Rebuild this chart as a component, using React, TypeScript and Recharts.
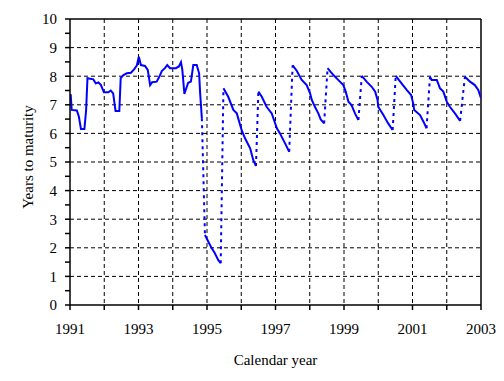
import { LineChart, Line, XAxis, YAxis, CartesianGrid, ReferenceLine } from 'recharts';

// each run is one bond's years to maturity, [year, value]
const run1: number[][] = [
  [1991.0, 7.24], [1991.02, 7.37], [1991.05, 6.82], [1991.2, 6.8], [1991.26, 6.58],
  [1991.32, 6.15], [1991.42, 6.15], [1991.47, 6.8], [1991.51, 7.93], [1991.68, 7.89],
  [1991.75, 7.75], [1991.83, 7.78], [1991.9, 7.7], [1991.99, 7.44], [1992.12, 7.44],
  [1992.19, 7.5], [1992.26, 7.4], [1992.33, 6.78], [1992.44, 6.78], [1992.48, 7.93],
  [1992.56, 8.04], [1992.66, 8.1], [1992.78, 8.12], [1992.87, 8.24], [1992.95, 8.37],
  [1993.01, 8.68], [1993.07, 8.39], [1993.19, 8.36], [1993.27, 8.22], [1993.34, 7.69],
  [1993.4, 7.79], [1993.53, 7.81], [1993.6, 7.96], [1993.68, 8.18], [1993.77, 8.28],
  [1993.84, 8.39], [1993.92, 8.28], [1994.09, 8.28], [1994.18, 8.34], [1994.24, 8.49],
  [1994.28, 8.22], [1994.34, 7.38], [1994.41, 7.63], [1994.45, 7.77], [1994.53, 7.81],
  [1994.6, 8.39], [1994.7, 8.39], [1994.77, 8.1], [1994.8, 7.4], [1994.85, 6.53],
];
const run2: number[][] = [
  [1994.94, 2.45], [1995.04, 2.21], [1995.14, 1.98], [1995.23, 1.81], [1995.33, 1.57], [1995.4, 1.46],
];
const run3: number[][] = [
  [1995.48, 7.58], [1995.62, 7.28], [1995.77, 6.82], [1995.87, 6.7], [1996.01, 6.12],
  [1996.11, 5.83], [1996.26, 5.48], [1996.35, 5.07], [1996.43, 4.86],
];
const run4: number[][] = [
  [1996.5, 7.46], [1996.6, 7.28], [1996.74, 6.93], [1996.89, 6.7], [1997.04, 6.18],
  [1997.13, 6.0], [1997.28, 5.65], [1997.4, 5.36],
];
const run5: number[][] = [
  [1997.5, 8.38], [1997.62, 8.19], [1997.76, 7.88], [1997.91, 7.69], [1998.01, 7.4],
  [1998.06, 7.17], [1998.15, 6.93], [1998.25, 6.7], [1998.32, 6.49], [1998.42, 6.35],
];
const run6: number[][] = [
  [1998.52, 8.28], [1998.69, 8.04], [1998.83, 7.87], [1998.98, 7.69], [1999.05, 7.46],
  [1999.13, 7.11], [1999.22, 6.99], [1999.32, 6.7], [1999.42, 6.47],
];
const run7: number[][] = [
  [1999.52, 8.01], [1999.66, 7.81], [1999.81, 7.63], [1999.91, 7.46], [1999.98, 7.17],
  [2000.0, 6.93], [2000.15, 6.64], [2000.29, 6.35], [2000.42, 6.12],
];
const run8: number[][] = [
  [2000.51, 8.01], [2000.68, 7.75], [2000.83, 7.52], [2000.96, 7.34], [2001.02, 7.05],
  [2001.05, 6.82], [2001.22, 6.64], [2001.32, 6.41], [2001.41, 6.18],
];
const run9: number[][] = [
  [2001.51, 7.98], [2001.56, 7.87], [2001.71, 7.87], [2001.8, 7.58], [2001.9, 7.46],
  [2002.0, 7.11], [2002.09, 6.93], [2002.24, 6.7], [2002.39, 6.44],
];
const run10: number[][] = [
  [2002.53, 7.98], [2002.68, 7.81], [2002.82, 7.69], [2002.92, 7.52], [2003.0, 7.23],
];

const runs = [run1, run2, run3, run4, run5, run6, run7, run8, run9, run10];

const yearTicks = [1991, 1992, 1993, 1994, 1995, 1996, 1997, 1998, 1999, 2000, 2001, 2002, 2003];
const gridYears = [1992, 1993, 1994, 1995, 1996, 1997, 1998, 1999, 2000, 2001, 2002];
const yTicks = [0, 0.5, 1, 1.5, 2, 2.5, 3, 3.5, 4, 4.5, 5, 5.5, 6, 6.5, 7, 7.5, 8, 8.5, 9, 9.5, 10];
const gridValues = [1, 2, 3, 4, 5, 6, 7, 8, 9];

type Pt = { t: number; v: number | null };

// solid runs, with a null between them so the line breaks
const solidData: Pt[] = [];
runs.forEach((r, i) => {
  if (i > 0) solidData.push({ t: (runs[i - 1][runs[i - 1].length - 1][0] + r[0][0]) / 2, v: null });
  r.forEach(([t, v]) => solidData.push({ t, v }));
});

// dotted jumps from the end of one run to the start of the next
const jumpData: Pt[] = [];
runs.slice(1).forEach((r, i) => {
  const prev = runs[i][runs[i].length - 1];
  if (i > 0) jumpData.push({ t: prev[0] - 0.01, v: null });
  jumpData.push({ t: prev[0], v: prev[1] });
  jumpData.push({ t: r[0][0], v: r[0][1] });
});

const FONT = '"Liberation Serif", "Times New Roman", serif';
const tickStyle = { fill: '#000', fontSize: 15, fontFamily: FONT };
const BLUE = '#0000ff';

export default function App() {
  return (
    <div style={{ position: 'absolute', left: 0, top: 0, background: '#fff' }}>
      <LineChart width={504} height={381} margin={{ top: 19, right: 23, bottom: 0, left: 0 }}>
        <CartesianGrid
          stroke="#000"
          strokeDasharray="4 3"
          horizontalValues={gridValues}
          verticalValues={gridYears}
        />
        <XAxis
          type="number"
          dataKey="t"
          domain={[1991, 2003]}
          ticks={yearTicks}
          allowDataOverflow
          height={76}
          tickSize={5}
          tickMargin={13}
          tick={tickStyle}
          tickFormatter={(y: number) => (y % 2 === 1 ? String(y) : '')}
          axisLine={{ stroke: '#000', strokeWidth: 1.5 }}
          tickLine={{ stroke: '#000', strokeWidth: 1.5 }}
          label={{ value: 'Calendar year', position: 'insideBottom', offset: 16, fill: '#000', fontSize: 15, fontFamily: FONT }}
        />
        <YAxis
          type="number"
          domain={[0, 10]}
          ticks={yTicks}
          width={70}
          tickSize={5}
          tickMargin={8}
          tick={tickStyle}
          interval={0}
          tickFormatter={(v: number) => (Number.isInteger(v) ? String(v) : '')}
          axisLine={{ stroke: '#000', strokeWidth: 1.5 }}
          tickLine={{ stroke: '#000', strokeWidth: 1.5 }}
          label={{
            content: () => (
              <text
                x={28}
                y={157}
                transform="rotate(-90 28 157)"
                textAnchor="middle"
                dominantBaseline="central"
                fontSize={15}
                fontFamily={FONT}
                fill="#000"
              >
                Years to maturity
              </text>
            ),
          }}
        />
        <ReferenceLine y={10} stroke="#000" strokeWidth={1.5} />
        <ReferenceLine x={2003} stroke="#000" strokeWidth={1.5} />
        <Line
          data={jumpData}
          dataKey="v"
          type="linear"
          stroke={BLUE}
          strokeWidth={2}
          strokeDasharray="3 4"
          dot={false}
          connectNulls={false}
          isAnimationActive={false}
        />
        <Line
          data={solidData}
          dataKey="v"
          type="linear"
          stroke={BLUE}
          strokeWidth={2}
          dot={false}
          connectNulls={false}
          isAnimationActive={false}
        />
      </LineChart>
    </div>
  );
}
